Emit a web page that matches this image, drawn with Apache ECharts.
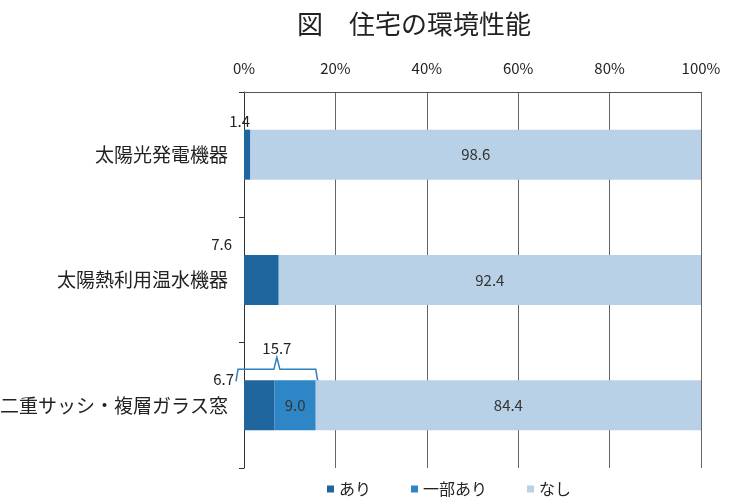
<!DOCTYPE html>
<html><head><meta charset="utf-8">
<script src="https://cdn.jsdelivr.net/npm/echarts@6/dist/echarts.min.js"></script>
<style>html,body{margin:0;padding:0;background:#fff}#c{width:736px;height:504px}</style>
</head><body><div id="c"></div>
<script>
const titleText = '図　住宅の環境性能';
const categories = ['太陽光発電機器', '太陽熱利用温水機器', '二重サッシ・複層ガラス窓'];
const seriesNames = ['あり', '一部あり', 'なし'];
const ariValues = [1.4, 7.6, 6.7];
const partValues = [null, null, 9.0];
const noneValues = [98.6, 92.4, 84.4];
const bracketValues = [null, null, 15.7];
const xTicks = [0, 20, 40, 60, 80, 100];

const colors = ['#1f669f', '#2e86c6', '#b9d1e7'];
const font = '"Noto Sans CJK JP", "Noto Sans", sans-serif';

const ariLabelPos = [[6, -1], [-12, -3], [-10, 6]];

const chart = echarts.init(document.getElementById('c'));
chart.setOption({
  animation: false,
  textStyle: { fontFamily: font },
  title: { text: titleText, left: 409, top: 6, textAlign: 'center',
    textStyle: { fontSize: 26, fontWeight: 'normal', color: '#222', fontFamily: font } },
  grid: { left: 244, right: 35, top: 92, bottom: 36, containLabel: false, outerBoundsMode: 'none' },
  legend: { bottom: 2, left: 322, itemWidth: 7, itemHeight: 7, itemGap: 40, icon: 'rect',
    data: seriesNames,
    textStyle: { fontSize: 16, color: '#222', fontFamily: font } },
  xAxis: { type: 'value', position: 'top', min: 0, max: 100, interval: 20,
    axisLine: { show: true, lineStyle: { color: '#555' } },
    axisTick: { show: false },
    axisLabel: { formatter: v => xTicks.includes(v) ? v + '%' : '', fontSize: 15, color: '#222', margin: 16 },
    splitLine: { show: true, lineStyle: { color: '#666', width: 1 } } },
  yAxis: { type: 'category', data: categories, inverse: true,
    axisLine: { show: true, lineStyle: { color: '#333' } },
    axisTick: { show: true, length: 5, lineStyle: { color: '#333' } },
    axisLabel: { fontSize: 19, color: '#222', margin: 16 } },
  series: [
    { name: seriesNames[0], type: 'bar', stack: 's', barWidth: 50,
      itemStyle: { color: colors[0] },
      data: ariValues.map((v, i) => ({ value: v,
        label: { show: true, position: ariLabelPos[i], align: 'right', verticalAlign: 'bottom',
          formatter: p => p.value.toFixed(1), fontSize: 15, color: '#222' } })) },
    { name: seriesNames[1], type: 'bar', stack: 's', barWidth: 50,
      itemStyle: { color: colors[1] },
      label: { show: true, position: 'inside', fontSize: 15, color: '#333',
        formatter: p => p.value == null ? '' : p.value.toFixed(1) },
      data: partValues },
    { name: seriesNames[2], type: 'bar', stack: 's', barWidth: 50,
      itemStyle: { color: colors[2] },
      label: { show: true, position: 'inside', fontSize: 15, color: '#333',
        formatter: p => p.value.toFixed(1) },
      data: noneValues },
    { name: 'bracket', type: 'custom', silent: true, legendHoverLink: false,
      data: bracketValues.map((v, i) => v == null ? null : [v, i]).filter(d => d),
      encode: { x: 0, y: 1 },
      renderItem: (params, api) => {
        const v = api.value(0), c = api.value(1);
        const p0 = api.coord([0, c]);
        const p1 = api.coord([v, c]);
        const x0 = p0[0] - 8, x1 = p1[0] + 2;
        const yTop = p0[1] - 36, yEnd = p0[1] - 24;
        const xm = (x0 + x1) / 2;
        return { type: 'group', children: [
          { type: 'polyline', shape: { points: [[x0, yEnd], [x0 + 2, yTop], [xm - 3, yTop], [xm, yTop - 12], [xm + 3, yTop], [x1 - 2, yTop], [x1, yEnd]] },
            style: { stroke: '#2e7fc0', lineWidth: 1.5, fill: null } },
          { type: 'text', x: xm, y: yTop - 14, style: { text: v.toFixed(1), textAlign: 'center', textVerticalAlign: 'bottom', fontSize: 15, fill: '#222', fontFamily: font } }
        ] };
      } }
  ]
});
</script></body></html>
